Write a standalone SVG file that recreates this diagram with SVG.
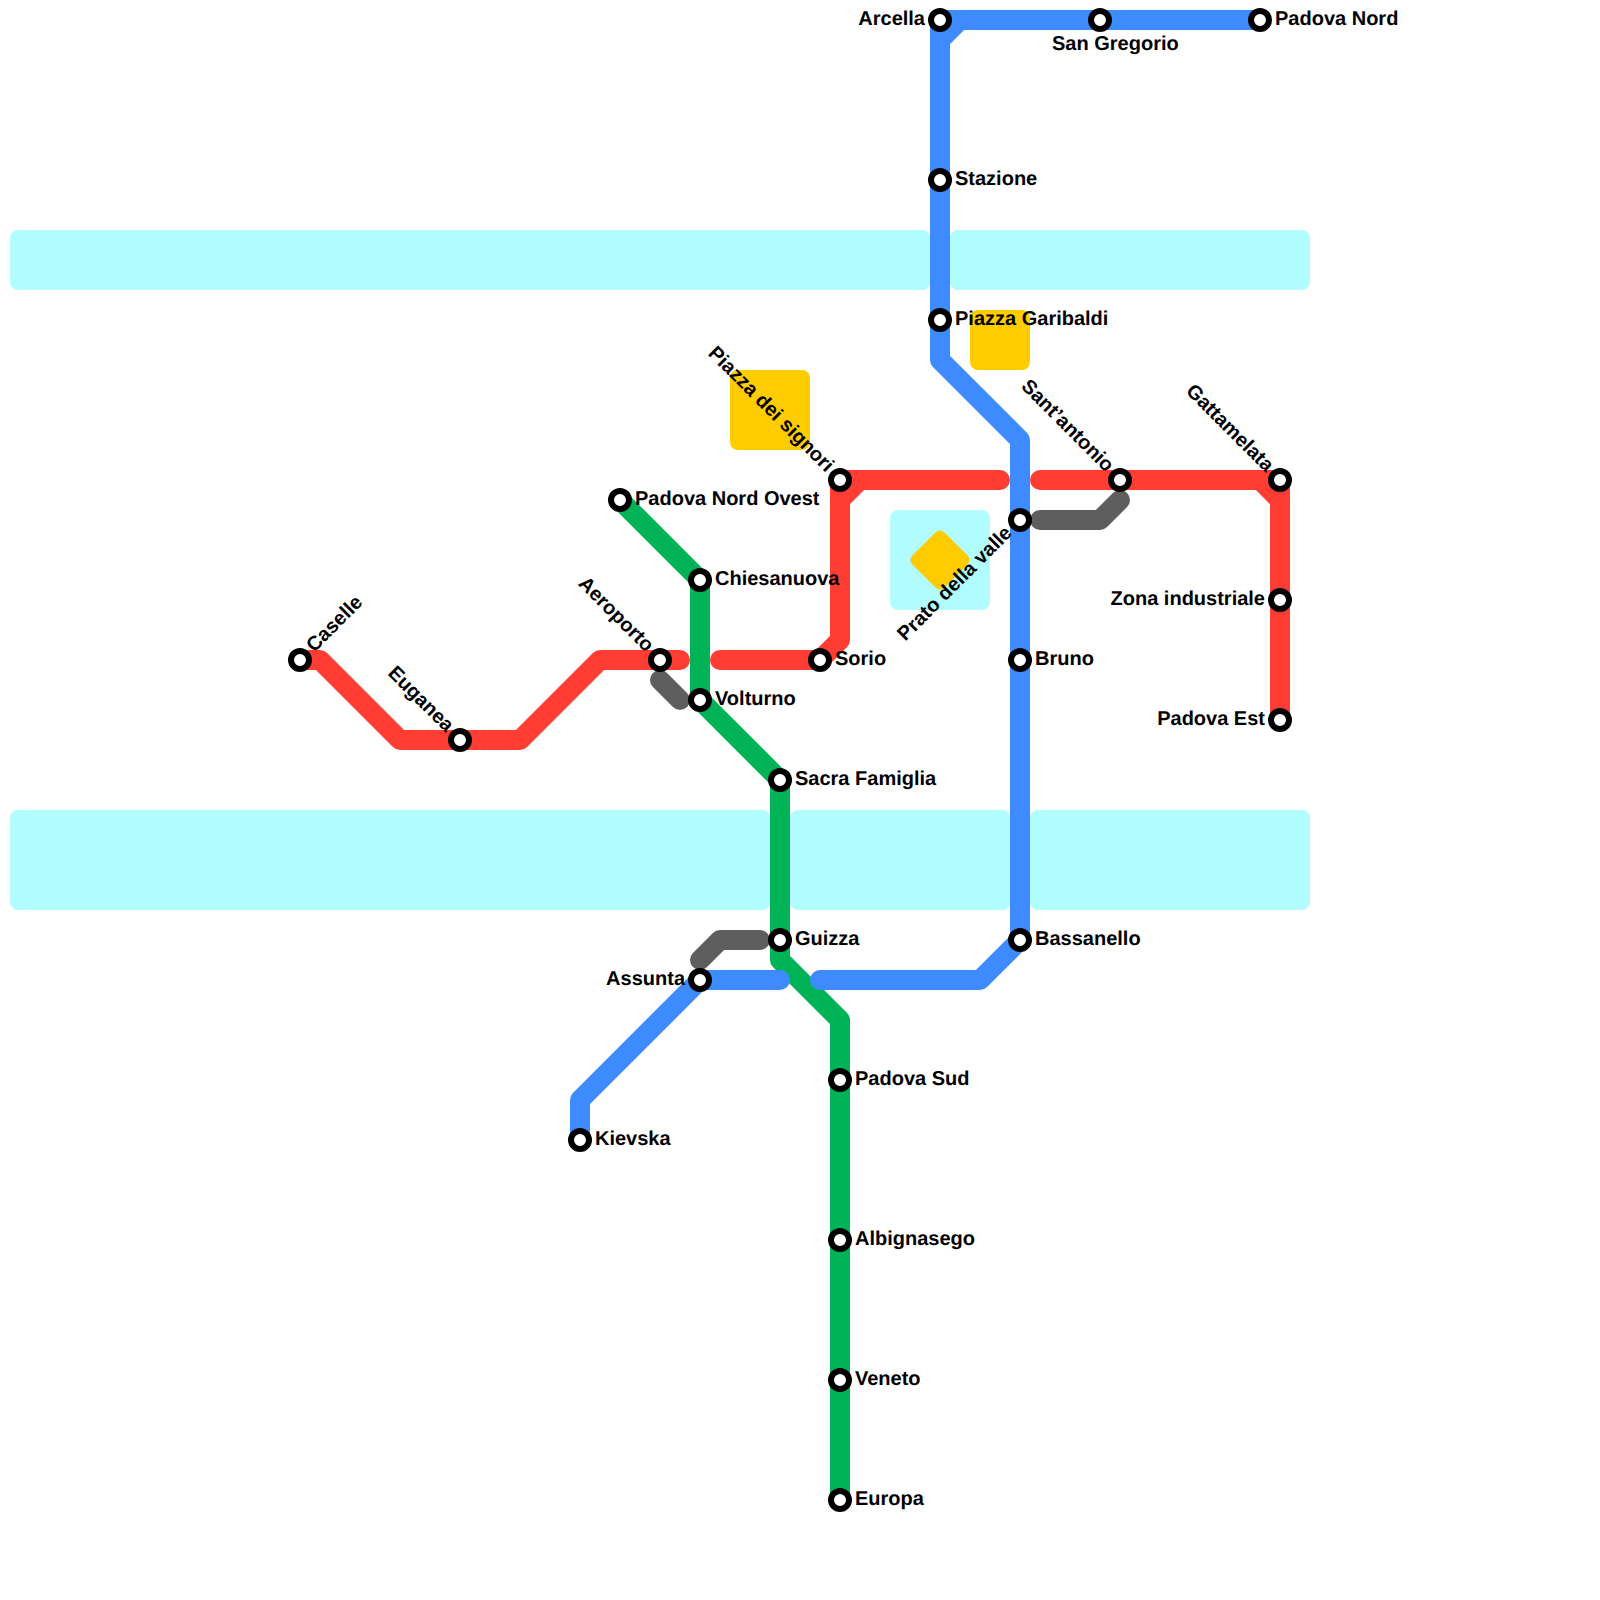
<svg xmlns="http://www.w3.org/2000/svg" width="1600" height="1600" viewBox="0 0 1600 1600">
<style>
.water{fill:#b0fcff}
.park{fill:#ffcc00}
.ln{fill:none;stroke-width:20;stroke-linecap:round;stroke-linejoin:round}
.red{stroke:#ff3d33}
.blue{stroke:#3d8bff}
.green{stroke:#00b356}
.grey{stroke:#5e5e5e}
.st{fill:#fff;stroke:#000;stroke-width:6}
text{font-family:"Liberation Sans",Arial,sans-serif;font-size:20px;font-weight:700;fill:#000;text-rendering:geometricPrecision}
.e{text-anchor:end}
</style>
<rect width="1600" height="1600" fill="#fff"/>
<g id="background">
<rect class="water" x="10" y="230" width="920" height="60" rx="8"/>
<rect class="water" x="950" y="230" width="360" height="60" rx="8"/>
<rect class="water" x="10" y="810" width="760" height="100" rx="8"/>
<rect class="water" x="790" y="810" width="220" height="100" rx="8"/>
<rect class="water" x="1030" y="810" width="280" height="100" rx="8"/>
<rect class="water" x="890" y="510" width="100" height="100" rx="8"/>
<rect class="park" x="970" y="310" width="60" height="60" rx="8"/>
<rect class="park" x="730" y="370" width="80" height="80" rx="8"/>
<rect class="park" x="917.3" y="537.3" width="45.4" height="45.4" rx="6" transform="rotate(45 940 560)"/>
</g>
<g id="connectors">
<path class="ln grey" d="M660 680L680 700"/>
<path class="ln grey" d="M1040 520H1100L1120 500"/>
<path class="ln grey" d="M700 960L720 940H760"/>
<path class="ln red" d="M300 660H320L400 740H520L600 660H680"/>
<path class="ln red" d="M720 660H820L840 640V480H1000"/>
<path class="ln red" d="M860 480L840 500"/>
<path class="ln red" d="M1040 480H1260L1280 500V720"/>
<path class="ln red" d="M1260 480H1280V500"/>
<path class="ln green" d="M620 500L700 580V700L780 780V960L840 1020V1500"/>
<path class="ln blue" d="M1260 20H960L940 40V360L1020 440V940L980 980H820"/>
<path class="ln blue" d="M960 20H940V40"/>
<path class="ln blue" d="M780 980H700L580 1100V1140"/>
</g>
<g id="st-arcella"><circle class="st" cx="940" cy="20" r="9"/><text class="e" x="925" y="25">Arcella</text></g>
<g id="st-san-gregorio"><circle class="st" cx="1100" cy="20" r="9"/><text x="1052" y="50">San Gregorio</text></g>
<g id="st-padova-nord"><circle class="st" cx="1260" cy="20" r="9"/><text x="1275" y="25">Padova Nord</text></g>
<g id="st-stazione"><circle class="st" cx="940" cy="180" r="9"/><text x="955" y="185">Stazione</text></g>
<g id="st-piazza-garibaldi"><circle class="st" cx="940" cy="320" r="9"/><text x="955" y="325">Piazza Garibaldi</text></g>
<g id="st-prato-della-valle"><circle class="st" cx="1020" cy="520" r="9"/><text class="e" transform="translate(1020 520) rotate(-45)" x="-15" y="5">Prato della valle</text></g>
<g id="st-bruno"><circle class="st" cx="1020" cy="660" r="9"/><text x="1035" y="665">Bruno</text></g>
<g id="st-bassanello"><circle class="st" cx="1020" cy="940" r="9"/><text x="1035" y="945">Bassanello</text></g>
<g id="st-assunta"><circle class="st" cx="700" cy="980" r="9"/><text class="e" x="685" y="985">Assunta</text></g>
<g id="st-kievska"><circle class="st" cx="580" cy="1140" r="9"/><text x="595" y="1145">Kievska</text></g>
<g id="st-caselle"><circle class="st" cx="300" cy="660" r="9"/><text transform="translate(300 660) rotate(-45)" x="15" y="5">Caselle</text></g>
<g id="st-euganea"><circle class="st" cx="460" cy="740" r="9"/><text class="e" transform="translate(460 740) rotate(45)" x="-15" y="5">Euganea</text></g>
<g id="st-aeroporto"><circle class="st" cx="660" cy="660" r="9"/><text class="e" transform="translate(660 660) rotate(45)" x="-15" y="5">Aeroporto</text></g>
<g id="st-sorio"><circle class="st" cx="820" cy="660" r="9"/><text x="835" y="665">Sorio</text></g>
<g id="st-piazza-dei-signori"><circle class="st" cx="840" cy="480" r="9"/><text class="e" transform="translate(840 480) rotate(45)" x="-15" y="5">Piazza dei signori</text></g>
<g id="st-sant-antonio"><circle class="st" cx="1120" cy="480" r="9"/><text class="e" transform="translate(1120 480) rotate(45)" x="-15" y="5">Sant’antonio</text></g>
<g id="st-gattamelata"><circle class="st" cx="1280" cy="480" r="9"/><text class="e" transform="translate(1280 480) rotate(45)" x="-15" y="5">Gattamelata</text></g>
<g id="st-zona-industriale"><circle class="st" cx="1280" cy="600" r="9"/><text class="e" x="1265" y="605">Zona industriale</text></g>
<g id="st-padova-est"><circle class="st" cx="1280" cy="720" r="9"/><text class="e" x="1265" y="725">Padova Est</text></g>
<g id="st-padova-nord-ovest"><circle class="st" cx="620" cy="500" r="9"/><text x="635" y="505">Padova Nord Ovest</text></g>
<g id="st-chiesanuova"><circle class="st" cx="700" cy="580" r="9"/><text x="715" y="585">Chiesanuova</text></g>
<g id="st-volturno"><circle class="st" cx="700" cy="700" r="9"/><text x="715" y="705">Volturno</text></g>
<g id="st-sacra-famiglia"><circle class="st" cx="780" cy="780" r="9"/><text x="795" y="785">Sacra Famiglia</text></g>
<g id="st-guizza"><circle class="st" cx="780" cy="940" r="9"/><text x="795" y="945">Guizza</text></g>
<g id="st-padova-sud"><circle class="st" cx="840" cy="1080" r="9"/><text x="855" y="1085">Padova Sud</text></g>
<g id="st-albignasego"><circle class="st" cx="840" cy="1240" r="9"/><text x="855" y="1245">Albignasego</text></g>
<g id="st-veneto"><circle class="st" cx="840" cy="1380" r="9"/><text x="855" y="1385">Veneto</text></g>
<g id="st-europa"><circle class="st" cx="840" cy="1500" r="9"/><text x="855" y="1505">Europa</text></g>
</svg>
